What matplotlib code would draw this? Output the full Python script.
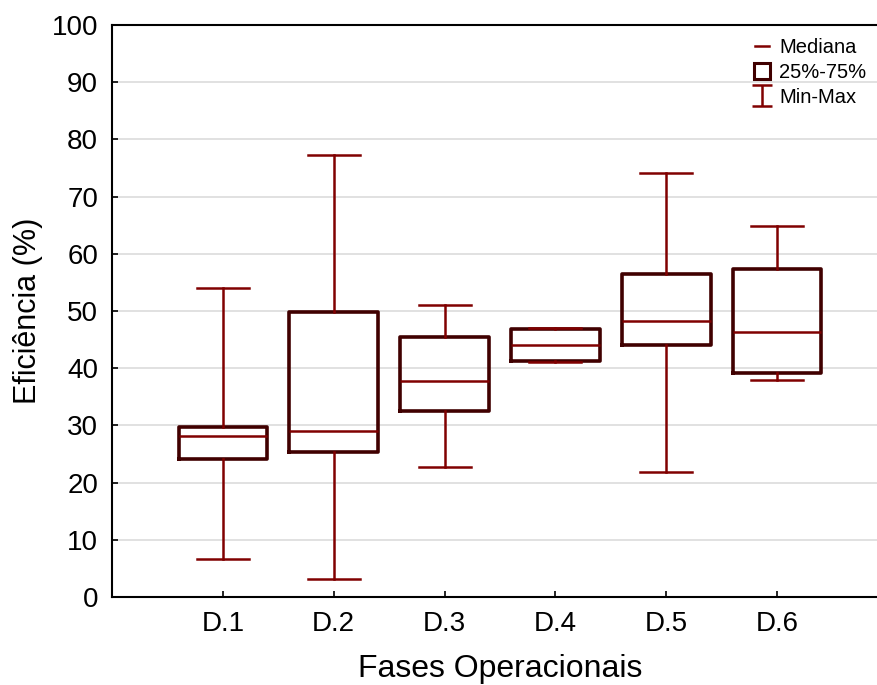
import numpy as np
import matplotlib
matplotlib.use("Agg")
import matplotlib.pyplot as plt

plt.rcParams["font.family"] = ["Liberation Sans", "DejaVu Sans"]

# Resumo por fase operacional
fases = ["D.1", "D.2", "D.3", "D.4", "D.5", "D.6"]
minimo = [6.6, 3.2, 22.8, 41.0, 21.8, 37.9]
q1 = [24.2, 25.4, 32.6, 41.3, 44.1, 39.2]
mediana = [28.2, 29.1, 37.8, 44.0, 48.3, 46.4]
q3 = [29.8, 49.9, 45.4, 46.8, 56.5, 57.4]
maximo = [54.0, 77.2, 51.0, 47.0, 74.1, 64.9]

cor_linha = "#800000"
cor_caixa = "#400000"

stats = []
for i in range(len(fases)):
    stats.append({"med": mediana[i], "q1": q1[i], "q3": q3[i],
                  "whislo": minimo[i], "whishi": maximo[i], "fliers": []})

fig = plt.figure(figsize=(8.77, 6.85), dpi=100)
ax = fig.add_axes([112 / 877, 88 / 685, 776 / 877, 572 / 685])

ax.bxp(stats, positions=range(1, len(fases) + 1), widths=0.8, capwidths=0.47,
       showfliers=False, patch_artist=False,
       boxprops=dict(color=cor_caixa, linewidth=2.6),
       medianprops=dict(color=cor_linha, linewidth=1.8),
       whiskerprops=dict(color=cor_linha, linewidth=1.8),
       capprops=dict(color=cor_linha, linewidth=1.8))

ax.set_xlim(0, 7)
ax.set_ylim(0, 100)
ax.set_xticks(range(1, len(fases) + 1))
ax.set_xticklabels(fases)
ax.set_yticks(np.arange(0, 101, 10))
ax.yaxis.grid(True, color="#dcdcdc", linewidth=1.2)
ax.set_axisbelow(True)
ax.tick_params(direction="in", length=4, width=1.2, labelsize=20, pad=10)
for s in ax.spines.values():
    s.set_linewidth(1.5)

ax.set_xlabel("Fases Operacionais", fontsize=23, labelpad=12)
ax.set_ylabel("Eficiência (%)", fontsize=22, labelpad=6)

# legenda
h1, = ax.plot([], [], color=cor_linha, linewidth=1.8, label="Mediana")
h2, = ax.plot([], [], marker="s", markersize=12, markerfacecolor="white",
              markeredgecolor=cor_caixa, markeredgewidth=2.2, linestyle="none",
              label="25%-75%")
h3 = ax.errorbar([np.nan], [np.nan], yerr=[1], fmt="none", ecolor=cor_linha,
                 elinewidth=1.8, capsize=7, capthick=1.8, label="Min-Max")
ax.legend(handles=[h1, h2, h3], loc="upper right", bbox_to_anchor=(0.988, 0.998),
          frameon=False, fontsize=14.5, handlelength=0.7, handletextpad=0.5,
          labelspacing=0.28, borderaxespad=0.2)

fig.savefig("out.png", dpi=100)
